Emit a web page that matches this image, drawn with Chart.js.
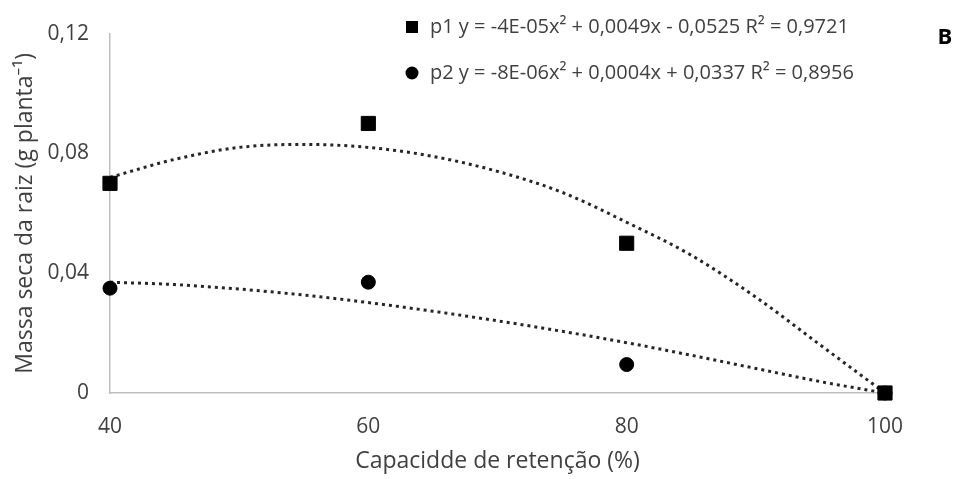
<!DOCTYPE html>
<html>
<head>
<meta charset="utf-8">
<script src="https://cdn.jsdelivr.net/npm/chart.js@4"></script>
<style>
  html, body { margin: 0; padding: 0; background: #fff; }
  #wrap { width: 958px; height: 479px; position: relative; }
</style>
</head>
<body>
<div id="wrap"><canvas id="chart"></canvas></div>
<script>
const xValues = [40, 60, 80, 100];
const p1Values = [0.07, 0.09, 0.05, 0];
const p2Values = [0.035, 0.037, 0.0095, 0];

// trendlines
const trendX = [40, 45, 50, 55, 60, 65, 70, 75, 80, 85, 90, 95, 100];
const p1Trend = [0.072, 0.078, 0.082, 0.083, 0.082, 0.079, 0.074, 0.067, 0.057, 0.046, 0.032, 0.016, 0];
const p2Trend = [0.037, 0.0362, 0.0347, 0.0327, 0.0302, 0.0273, 0.0241, 0.0206, 0.0168, 0.0126, 0.0082, 0.0038, 0];

const xTicks = [40, 60, 80, 100];
const yTicks = [0, 0.04, 0.08, 0.12];
const yTickLabels = ["0", "0,04", "0,08", "0,12"];

const legendLines = [
  { style: "rect", text: "p1 y = -4E-05x² + 0,0049x - 0,0525 R² = 0,9721" },
  { style: "circle", text: "p2 y = -8E-06x² + 0,0004x + 0,0337 R² = 0,8956" },
];

const FONT = "'Open Sans', 'Noto Sans', sans-serif";
const pts = (xs, ys) => xs.map((x, i) => ({ x, y: ys[i] }));

const trendStyle = {
  showLine: true,
  pointRadius: 0,
  borderColor: "#262626",
  borderWidth: 3,
  borderDash: [3, 4],
  borderCapStyle: "butt",
  cubicInterpolationMode: "monotone",
  fill: false,
  clip: false,
};

const overlay = {
  id: "overlay",
  afterDraw(chart) {
    const ctx = chart.ctx;
    ctx.save();
    ctx.font = `20px ${FONT}`;
    ctx.textBaseline = "middle";
    legendLines.forEach((item, i) => {
      const y = 27 + i * 46;
      ctx.fillStyle = "#000";
      if (item.style === "rect") {
        ctx.fillRect(406, y - 6, 12, 12);
      } else {
        ctx.beginPath();
        ctx.arc(412, y, 6.5, 0, Math.PI * 2);
        ctx.fill();
      }
      ctx.fillStyle = "#404040";
      ctx.fillText(item.text, 430, y);
    });
    ctx.font = `bold 22px ${FONT}`;
    ctx.fillStyle = "#000";
    ctx.textAlign = "center";
    ctx.fillText("B", 945, 38);
    ctx.restore();
  },
};

new Chart(document.getElementById("chart"), {
  type: "scatter",
  data: {
    datasets: [
      {
        label: "p1",
        data: pts(xValues, p1Values),
        pointStyle: "rect",
        pointRadius: 10,
        pointHoverRadius: 10,
        backgroundColor: "#000",
        borderColor: "#000",
        clip: false,
      },
      {
        label: "p2",
        data: pts(xValues, p2Values),
        pointStyle: "circle",
        pointRadius: 7,
        pointHoverRadius: 7,
        backgroundColor: "#000",
        borderColor: "#000",
        clip: false,
      },
      { label: "p1 trend", data: pts(trendX, p1Trend), ...trendStyle },
      { label: "p2 trend", data: pts(trendX, p2Trend), ...trendStyle },
    ],
  },
  options: {
    responsive: true,
    maintainAspectRatio: false,
    animation: false,
    layout: { padding: { left: 0, right: 73, top: 22, bottom: 0 } },
    plugins: { legend: { display: false }, tooltip: { enabled: false } },
    scales: {
      x: {
        type: "linear",
        min: 40,
        max: 100,
        afterBuildTicks: (scale) => { scale.ticks = xTicks.map((v) => ({ value: v })); },
        afterFit: (scale) => { scale.height = 86; },
        grid: { display: false, drawTicks: false },
        border: { color: "#bfbfbf", width: 1.5 },
        ticks: { color: "#404040", font: { family: FONT, size: 21 }, padding: 21 },
        title: {
          display: true,
          text: "Capacidde de retenção (%)",
          color: "#404040",
          font: { family: FONT, size: 23 },
          padding: { top: 6 },
        },
      },
      y: {
        type: "linear",
        min: 0,
        max: 0.12,
        afterBuildTicks: (scale) => { scale.ticks = yTicks.map((v) => ({ value: v })); },
        afterFit: (scale) => { scale.width = 110; },
        grid: { display: false, drawTicks: false },
        border: { color: "#bfbfbf", width: 1.5 },
        ticks: {
          color: "#404040",
          font: { family: FONT, size: 21 },
          padding: 21,
          callback: (v, i) => yTickLabels[i],
        },
        title: {
          display: true,
          text: "Massa seca da raiz (g planta⁻¹)",
          color: "#404040",
          font: { family: FONT, size: 23 },
          padding: { top: 12, bottom: 4 },
        },
      },
    },
  },
  plugins: [overlay],
});
</script>
</body>
</html>
